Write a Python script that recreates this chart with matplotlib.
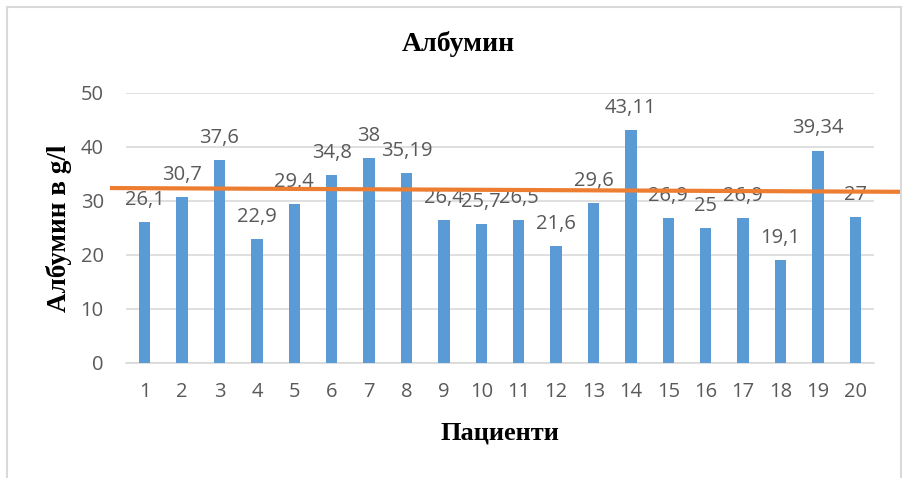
import matplotlib
matplotlib.use("Agg")
import matplotlib.pyplot as plt
from matplotlib.patches import Rectangle

patients = list(range(1, 21))
albumin = [26.1, 30.7, 37.6, 22.9, 29.4, 34.8, 38, 35.19, 26.4, 25.7,
           26.5, 21.6, 29.6, 43.11, 26.9, 25, 26.9, 19.1, 39.34, 27]
value_labels = ["26,1", "30,7", "37,6", "22,9", "29,4", "34,8", "38", "35,19", "26,4", "25,7",
                "26,5", "21,6", "29,6", "43,11", "26,9", "25", "26,9", "19,1", "39,34", "27"]
y_ticks = [0, 10, 20, 30, 40, 50]
ref_x = [0.07, 21.3]
ref_y = [32.4, 31.7]

bar_color = "#5B9BD5"
line_color = "#ED7D31"
grid_color = "#D9D9D9"
text_gray = "#595959"
serif = ["Liberation Serif", "DejaVu Serif"]
sans = ["Open Sans", "DejaVu Sans"]

fig = plt.figure(figsize=(9.03, 4.78), dpi=100)
fig.patch.set_facecolor("white")
fig.patches.append(Rectangle((7 / 903, -0.05), 894 / 903, 1.05 - 7 / 478,
                             transform=fig.transFigure, fill=False,
                             edgecolor=grid_color, linewidth=1.5))

ax = fig.add_axes([126 / 903, 1 - 363 / 478, 748 / 903, 270 / 478])
ax.bar(patients, albumin, width=0.31, color=bar_color, zorder=3)
ax.set_xlim(0.5, 20.5)
ax.set_ylim(0, 50)
ax.set_yticks(y_ticks)
ax.set_xticks(patients)
ax.grid(axis="y", color=grid_color, linewidth=1.2, zorder=0)
for s in ["top", "right", "left"]:
    ax.spines[s].set_visible(False)
ax.spines["bottom"].set_color(grid_color)
ax.spines["bottom"].set_linewidth(1.2)
ax.tick_params(length=0, labelcolor=text_gray, labelsize=14.5)
ax.tick_params(axis="y", pad=16)
ax.tick_params(axis="x", pad=14)
for lab in ax.get_xticklabels() + ax.get_yticklabels():
    lab.set_family(sans)

for x, v, t in zip(patients, albumin, value_labels):
    ax.annotate(t, (x, v), xytext=(0, 16), textcoords="offset points",
                ha="center", va="center", fontsize=14.5, color=text_gray,
                family=sans, zorder=4)

ax.plot(ref_x, ref_y, color=line_color, linewidth=3, clip_on=False, zorder=5,
        solid_capstyle="butt")

fig.text(458 / 903, 1 - 44 / 478, "Албумин", ha="center", va="center",
         fontsize=20, fontweight="bold", family=serif)
fig.text(500 / 903, 1 - 433 / 478, "Пациенти", ha="center", va="center",
         fontsize=19, fontweight="bold", family=serif)
fig.text(59 / 903, 1 - 228 / 478, "Албумин в g/l", rotation=90, ha="center",
         va="center", fontsize=19.5, fontweight="bold", family=serif)

fig.savefig("out.png", dpi=100, facecolor="white")
